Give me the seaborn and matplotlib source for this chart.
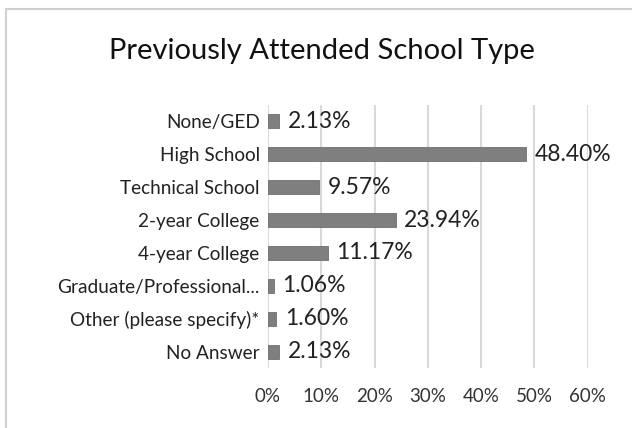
import matplotlib
matplotlib.use("Agg")
import matplotlib.pyplot as plt
import seaborn as sns
import pandas as pd
from matplotlib.patches import Rectangle

# data
categories = ["None/GED", "High School", "Technical School", "2-year College",
              "4-year College", "Graduate/Professional...", "Other (please specify)*", "No Answer"]
values = [2.13, 48.40, 9.57, 23.94, 11.17, 1.06, 1.60, 2.13]
xticks = [0, 10, 20, 30, 40, 50, 60]

sns.set_style("white")
plt.rcParams["font.family"] = ["Lato", "DejaVu Sans"]

df = pd.DataFrame({"type": categories, "pct": values})

fig = plt.figure(figsize=(6.32, 4.28), dpi=100)
ax = fig.add_axes([0.424, 0.14, 0.506, 0.615])
sns.barplot(data=df, x="pct", y="type", color="#7f7f7f", saturation=1,
            width=0.42, ax=ax, edgecolor="#6e6e6e", linewidth=0.6)

ax.set_xlim(0, 60)
ax.set_xticks(xticks)
ax.set_xticklabels([f"{t}%" for t in xticks], fontsize=13.5, color="#333333")
ax.tick_params(axis="y", labelsize=13.7, labelcolor="#222222", length=0, pad=6)
ax.tick_params(axis="x", length=0, pad=14)
ax.xaxis.grid(True, color="#d9d9d9", linewidth=1.5)
ax.set_axisbelow(True)
for s in ax.spines.values():
    s.set_visible(False)
ax.set_xlabel("")
ax.set_ylabel("")

for i, v in enumerate(values):
    ax.text(v + 1.6, i, f"{v:.2f}%", va="center", ha="left", fontsize=16.5, color="#222222")

fig.text(0.51, 0.88, "Previously Attended School Type", ha="center", va="center",
         fontsize=21, color="#111111")

fig.patches.append(Rectangle((0.009, -0.05), 1.2, 1.03, transform=fig.transFigure,
                             fill=False, edgecolor="#d0d0d0", linewidth=1.5))

fig.savefig("out.png", dpi=100)
